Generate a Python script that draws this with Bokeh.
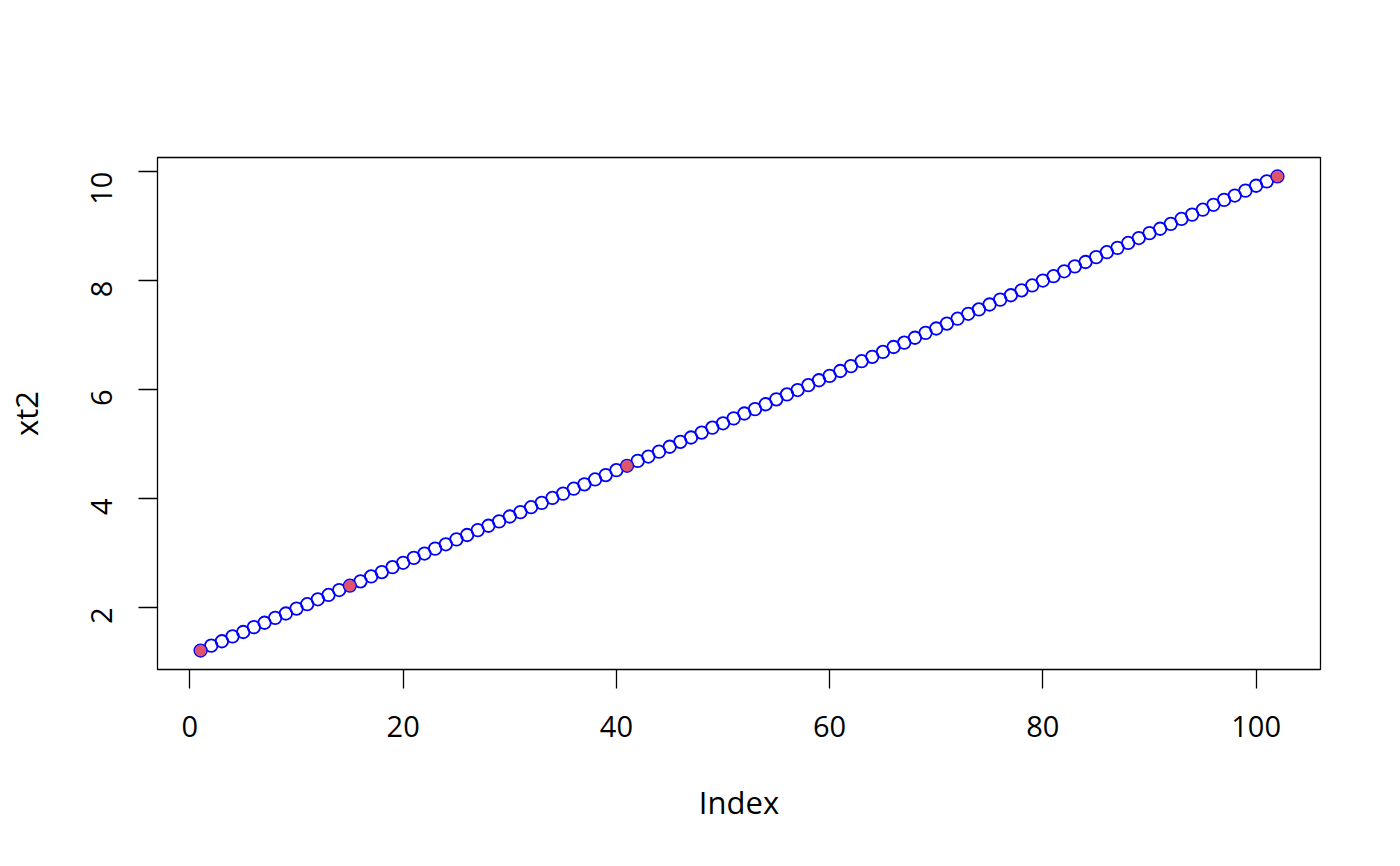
from bokeh.plotting import figure
from bokeh.models import Range1d, FixedTicker, ColumnDataSource
from bokeh.embed import file_html
from bokeh.resources import INLINE
import math

xt2 = [
    1.21, 1.30, 1.38, 1.47, 1.55, 1.64, 1.72, 1.81, 1.89, 1.98,
    2.06, 2.15, 2.23, 2.32, 2.40, 2.48, 2.57, 2.65, 2.74, 2.82,
    2.91, 2.99, 3.08, 3.16, 3.25, 3.33, 3.42, 3.50, 3.58, 3.67,
    3.75, 3.84, 3.92, 4.01, 4.09, 4.18, 4.26, 4.35, 4.43, 4.52,
    4.60, 4.69, 4.77, 4.86, 4.95, 5.04, 5.12, 5.21, 5.30, 5.38,
    5.47, 5.56, 5.64, 5.73, 5.82, 5.91, 5.99, 6.08, 6.17, 6.25,
    6.34, 6.43, 6.52, 6.60, 6.69, 6.78, 6.86, 6.95, 7.04, 7.12,
    7.21, 7.30, 7.39, 7.47, 7.56, 7.65, 7.73, 7.82, 7.91, 8.00,
    8.08, 8.17, 8.26, 8.34, 8.43, 8.52, 8.60, 8.69, 8.78, 8.87,
    8.95, 9.04, 9.13, 9.21, 9.30, 9.39, 9.48, 9.56, 9.65, 9.74,
    9.82, 9.91,
]
index = list(range(1, len(xt2) + 1))
knot_index = [1, 15, 41, 102]
knot_values = [1.21, 2.40, 4.60, 9.91]
x_ticks = [0, 20, 40, 60, 80, 100]
y_ticks = [2, 4, 6, 8, 10]

FONT = "Open Sans"
FS = "29px"
FS_LAB = "31px"

def ext(lo, hi):
    d = (hi - lo) * 0.04
    return lo - d, hi + d

xlo, xhi = ext(min(index), max(index))
ylo, yhi = ext(min(xt2), max(xt2))

p = figure(frame_width=1163, frame_height=512,
           min_border_left=157, min_border_right=72,
           min_border_top=157, min_border_bottom=189,
           output_backend="svg", toolbar_location=None,
           x_range=Range1d(xlo, xhi), y_range=Range1d(ylo, yhi))
p.background_fill_color = "white"
p.border_fill_color = "white"
p.outline_line_color = "black"
p.outline_line_width = 1.3
p.xgrid.visible = False
p.ygrid.visible = False

src = ColumnDataSource(dict(x=index, y=xt2))
p.scatter("x", "y", source=src, size=12.5, marker="circle",
          fill_color=None, line_color="#0000FF", line_width=1.8)
ksrc = ColumnDataSource(dict(x=knot_index, y=knot_values))
p.scatter("x", "y", source=ksrc, size=11, marker="circle",
          fill_color="#DF536B", line_color="#DF536B", line_width=0.5)

for ax, ticks in ((p.xaxis, x_ticks), (p.yaxis, y_ticks)):
    ax.ticker = FixedTicker(ticks=ticks)
    ax.axis_line_color = None
    ax.major_tick_line_color = "black"
    ax.major_tick_line_width = 1.3
    ax.major_tick_in = 0
    ax.major_tick_out = 19
    ax.minor_tick_line_color = None
    ax.major_label_text_font = FONT
    ax.major_label_text_font_size = FS
    ax.major_label_text_color = "black"
    ax.axis_label_text_font = FONT
    ax.axis_label_text_font_size = FS_LAB
    ax.axis_label_text_font_style = "normal"
    ax.axis_label_text_color = "black"

p.xaxis.axis_label = "Index"
p.yaxis.axis_label = "xt2"
p.xaxis.major_label_standoff = 27
p.xaxis.axis_label_standoff = 41
p.yaxis.major_label_orientation = math.pi / 2
p.yaxis.major_label_standoff = 37
p.yaxis.axis_label_standoff = 31

open("out.html", "w").write(file_html(p, INLINE))
